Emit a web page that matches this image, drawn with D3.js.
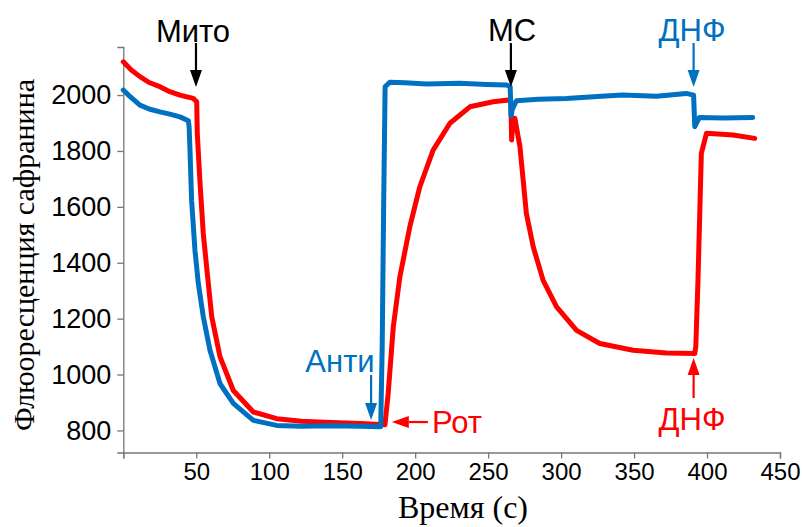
<!DOCTYPE html>
<html>
<head>
<meta charset="utf-8">
<script src="https://cdn.jsdelivr.net/npm/d3@7"></script>
<style>
  body { margin: 0; background: #fff; }
  svg { display: block; }
  .tick text { font-family: "Liberation Sans", Arial, sans-serif; fill: #000; }
  .axis-title { font-family: "Liberation Serif", "Times New Roman", serif; fill: #000; }
  .note { font-family: "Liberation Sans", Arial, sans-serif; }
</style>
</head>
<body>
<div id="chart"></div>
<script>
// blue trace (Анти first)
var blueT = [0, 3.5, 11.4, 17.7, 25.1, 31.9, 38.8, 44.6, 45.1, 45.7, 46.8, 49.1, 51.4, 54.8, 59.4, 66.3, 75.4, 89.1, 105.1, 122.1, 142.4, 162.7, 176.4, 177.4, 178.4, 179.4, 182.6, 193.1, 207.8, 230.6, 248.8, 262.6, 265.1, 265.7, 266.6, 269.4, 284.3, 303.6, 324.9, 342.1, 365.4, 385.7, 390.8, 391.6, 392.8, 394.8, 411, 431.3];
var blueV = [2018, 2000, 1964, 1950, 1940, 1932, 1922, 1908, 1886, 1803, 1624, 1445, 1326, 1207, 1087, 967, 897, 836, 818, 815, 817, 815, 813, 1100, 1600, 2030, 2046, 2044, 2040, 2042, 2038, 2036, 2030, 1925, 1950, 1980, 1985, 1988, 1995, 2000, 1996, 2006, 2000, 1887, 1900, 1920, 1918, 1920];

// red trace (Рот)
var redT = [0, 5.5, 11.4, 17.7, 25.1, 31.9, 38.8, 47.9, 50.3, 50.7, 52.6, 54.8, 57.1, 60.6, 66.3, 75.4, 89.1, 105.1, 122.1, 142.4, 162.7, 179.3, 181.5, 185, 189.5, 196.3, 203.2, 212.3, 223.8, 237.5, 253.4, 264, 265.6, 266.1, 266.9, 268.3, 271.8, 276.2, 280.9, 287.7, 296.9, 310.6, 326.5, 349.3, 372.2, 391.6, 392.3, 393.8, 396.1, 399.6, 417.8, 432.7];
var redV = [2119, 2090, 2066, 2045, 2030, 2012, 2000, 1988, 1976, 1863, 1684, 1505, 1385, 1207, 1063, 943, 866, 842, 833, 828, 825, 820, 932, 1170, 1349, 1528, 1672, 1803, 1899, 1958, 1976, 1982, 1978, 1839, 1900, 1917, 1815, 1576, 1457, 1337, 1242, 1158, 1111, 1087, 1077, 1075, 1100, 1337, 1791, 1863, 1857, 1845];

var xTicks = [50, 100, 150, 200, 250, 300, 350, 400, 450];
var yTicks = [800, 1000, 1200, 1400, 1600, 1800, 2000];

// additions marked with down arrows at the top
var downMarks = [
  { label: "Мито", t: 49.8, color: "#000" },
  { label: "МС", t: 265.6, color: "#000" },
  { label: "ДНФ", t: 390.8, color: "#0070C0" }
];

var blue = "#0070C0", red = "#FF0000";

var width = 802, height = 527;
var svg = d3.select("#chart").append("svg")
  .attr("width", width)
  .attr("height", height);

var x = d3.scaleLinear().domain([0, 450]).range([123.3, 780]);
var y = d3.scaleLinear().domain([721, 2172]).range([452.5, 47]);

var xAxis = svg.append("g")
  .attr("transform", "translate(0," + y(721) + ")")
  .call(d3.axisBottom(x).tickValues([0].concat(xTicks)).tickSizeOuter(0).tickSize(6).tickPadding(4)
    .tickFormat(function (d) { return d == 0 ? "" : d; }));
xAxis.selectAll("text").style("font-size", "24px");

var yAxis = svg.append("g")
  .attr("transform", "translate(" + x(0) + ",0)")
  .call(d3.axisLeft(y).tickValues(yTicks).tickSizeOuter(0).tickSize(6).tickPadding(6)
    .tickFormat(d3.format("d")));
yAxis.selectAll("text").style("font-size", "27px");

svg.selectAll(".domain, .tick line").attr("stroke", "#777").attr("stroke-width", 1.3);

svg.append("text")
  .attr("class", "axis-title")
  .attr("x", 463).attr("y", 518)
  .attr("text-anchor", "middle")
  .style("font-size", "32px")
  .text("Время (с)");

svg.append("text")
  .attr("class", "axis-title")
  .attr("transform", "translate(34,255) rotate(-90)")
  .attr("text-anchor", "middle")
  .style("font-size", "30px")
  .text("Флюоресценция сафранина");

var line = d3.line()
  .x(function (d) { return x(d[0]); })
  .y(function (d) { return y(d[1]); });

function drawTrace(ts, vs, color) {
  svg.append("path")
    .datum(d3.zip(ts, vs))
    .attr("fill", "none")
    .attr("stroke", color)
    .attr("stroke-width", 5)
    .attr("stroke-linejoin", "round")
    .attr("stroke-linecap", "round")
    .attr("d", line);
}

drawTrace(redT, redV, red);
drawTrace(blueT, blueV, blue);

// arrow with filled head, pointing from (x1,y1) to (x2,y2)
function arrow(x1, y1, x2, y2, color) {
  var ang = Math.atan2(y2 - y1, x2 - x1);
  var len = 17, half = 6;
  var bx = x2 - len * Math.cos(ang), by = y2 - len * Math.sin(ang);
  svg.append("line")
    .attr("x1", x1).attr("y1", y1).attr("x2", bx).attr("y2", by)
    .attr("stroke", color).attr("stroke-width", 2.2);
  var px = -Math.sin(ang) * half, py = Math.cos(ang) * half;
  svg.append("path")
    .attr("d", "M" + x2 + "," + y2 + "L" + (bx + px) + "," + (by + py) + "L" + (bx - px) + "," + (by - py) + "Z")
    .attr("fill", color);
}

function note(txt, cx, by, color, anchor) {
  svg.append("text")
    .attr("class", "note")
    .attr("x", cx).attr("y", by)
    .attr("text-anchor", anchor || "middle")
    .attr("fill", color)
    .style("font-size", "31px")
    .text(txt);
}

downMarks.forEach(function (m) {
  arrow(x(m.t), 43, x(m.t), 87, m.color);
});
note("Мито", 193, 42, "#000");
note("МС", 512, 41, "#000");
note("ДНФ", 692, 41, blue);

// Анти
arrow(x(169.8), 375, x(169.8), 420, blue);
note("Анти", 340, 372, blue);

// Рот
arrow(x(208.7), y(830), x(184), y(830), red);
note("Рот", 432, 433, red, "start");

// ДНФ (red)
arrow(x(390.8), 398, x(390.8), 358, red);
note("ДНФ", 692, 430, red);
</script>
</body>
</html>
